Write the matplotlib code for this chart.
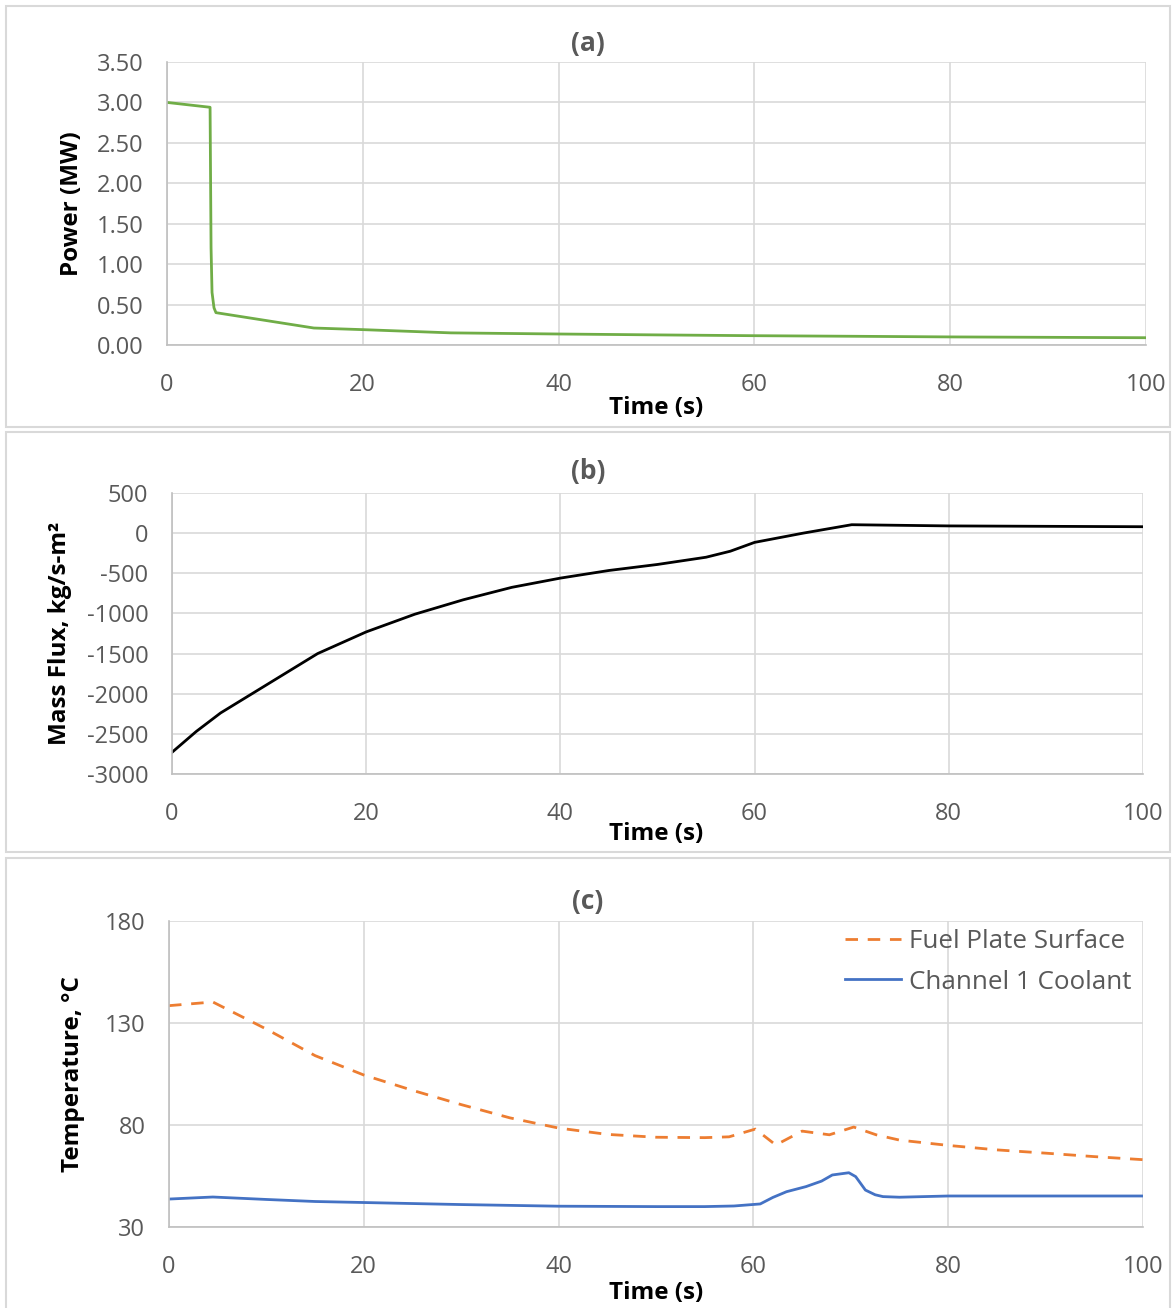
import matplotlib
matplotlib.use("Agg")
import matplotlib.pyplot as plt
from matplotlib.patches import Rectangle

# ---- data ----
t_power = [0, 4.4, 4.5, 4.6, 4.8, 5, 15, 20, 29, 40, 50, 60, 70, 80, 90, 100]
power = [3.00, 2.94, 1.20, 0.65, 0.46, 0.40, 0.21, 0.19, 0.15, 0.136, 0.125,
         0.115, 0.108, 0.10, 0.095, 0.09]

t_flux = [0, 2.5, 5, 10, 15, 20, 25, 30, 35, 40, 45, 50, 55, 57.5, 60, 65, 70, 80, 90, 100]
flux = [-2730, -2470, -2240, -1870, -1500, -1230, -1010, -830, -675, -560, -465,
        -390, -300, -225, -115, 0, 105, 90, 85, 80]

t_temp = [0, 4.5, 10, 15, 20, 25, 30, 35, 40, 45, 50, 55, 57.5, 60.2, 62.3, 65,
          67.8, 70.3, 72.6, 75, 80, 85, 90, 95, 100]
fuel = [138.5, 140.3, 127, 114, 104.5, 97, 90, 83.5, 78.5, 75.4, 74, 73.8, 74.2,
        78, 70.2, 77, 75.2, 79, 75.2, 72.6, 70, 67.8, 66.2, 64.5, 63]

t_cool = [0, 4.5, 10, 15, 20, 30, 40, 50, 55, 58, 60.7, 62, 63.4, 65.4, 67, 68.1,
          69.8, 70.5, 71.5, 72.5, 73.3, 75, 80, 90, 100]
coolant = [43.7, 44.7, 43.5, 42.5, 42, 41, 40.2, 40, 40, 40.3, 41.3, 44.5, 47.3,
           49.8, 52.5, 55.5, 56.6, 54.7, 48.1, 45.8, 44.9, 44.6, 45.2, 45.2, 45.2]

x_ticks = [0, 20, 40, 60, 80, 100]
power_ticks = [0, 0.5, 1.0, 1.5, 2.0, 2.5, 3.0, 3.5]
flux_ticks = [-3000, -2500, -2000, -1500, -1000, -500, 0, 500]
temp_ticks = [30, 80, 130, 180]

W, H = 1172, 1308
plt.rcParams['font.family'] = ['Open Sans', 'DejaVu Sans']
plt.rcParams['axes.unicode_minus'] = False
GRAY = '#595959'
GRID = '#d9d9d9'
FS = 17
LFS = 17.5

fig = plt.figure(figsize=(W / 100, H / 100), dpi=100)


def box(x0, y0, x1, y1):
    # pixel box (top-left origin) -> figure fraction rect
    return [x0 / W, 1 - y1 / H, (x1 - x0) / W, (y1 - y0) / H]


def panel(frame, axpx, title, title_y, xlab_y, ylab, ylab_x):
    fig.patches.append(Rectangle(frame[:2], frame[2], frame[3], transform=fig.transFigure,
                                 fill=False, edgecolor=GRID, lw=1.5))
    x0, y0, x1, y1 = axpx
    ax = fig.add_axes(box(*axpx))
    for s in ['top', 'right']:
        ax.spines[s].set_visible(False)
    for s in ['left', 'bottom']:
        ax.spines[s].set_color('#bfbfbf')
        ax.spines[s].set_linewidth(1.2)
    ax.grid(True, color=GRID, lw=1.2)
    ax.set_axisbelow(True)
    ax.tick_params(length=0, labelsize=FS, labelcolor=GRAY)
    ax.tick_params(axis='x', pad=20)
    ax.tick_params(axis='y', pad=17)
    ax.set_xlim(0, 100)
    ax.set_xticks(x_ticks)
    fig.text(588 / W, 1 - title_y / H, title, ha='center', va='center',
             fontsize=19, fontweight='bold', color=GRAY)
    ax.set_xlabel('Time (s)', fontsize=LFS, fontweight='bold', va='center')
    ax.set_ylabel(ylab, fontsize=LFS, fontweight='bold', va='center')
    ax.xaxis.set_label_coords((656 - x0) / (x1 - x0), -(xlab_y - y1) / (y1 - y0))
    ax.yaxis.set_label_coords(-(x0 - ylab_x) / (x1 - x0), 0.5)
    return ax


# (a) power
ax1 = panel(box(6, 6, 1170, 427), (167, 62, 1146, 345), '(a)', 44, 408,
            'Power (MW)', 72)
ax1.plot(t_power, power, color='#70AD47', lw=2)
ax1.set_ylim(0, 3.5)
ax1.set_yticks(power_ticks)
ax1.set_yticklabels([f'{v:.2f}' for v in power_ticks])

# (b) mass flux
ax2 = panel(box(6, 432, 1170, 852), (172, 493, 1143, 774), '(b)', 471, 834,
            'Mass Flux, kg/s-m²', 60)
ax2.plot(t_flux, flux, color='black', lw=2)
ax2.set_ylim(-3000, 500)
ax2.set_yticks(flux_ticks)

# (c) temperatures
ax3 = panel(box(6, 858, 1170, 1312), (169, 921, 1143, 1227), '(c)', 901, 1293,
            'Temperature, °C', 73)
ax3.plot(t_temp, fuel, color='#ED7D31', lw=2, dashes=(4.5, 3.5),
         label='Fuel Plate Surface')
ax3.plot(t_cool, coolant, color='#4472C4', lw=2, label='Channel 1 Coolant')
ax3.set_ylim(30, 180)
ax3.set_yticks(temp_ticks)
leg = ax3.legend(loc='upper left', bbox_to_anchor=(845 / W, 1 - 929 / H),
                 bbox_transform=fig.transFigure, frameon=False, fontsize=18.7,
                 borderpad=0, borderaxespad=0, handlelength=2.15,
                 handletextpad=0.3, labelspacing=0.6)
for txt in leg.get_texts():
    txt.set_color(GRAY)

fig.savefig('out.png', dpi=100)
